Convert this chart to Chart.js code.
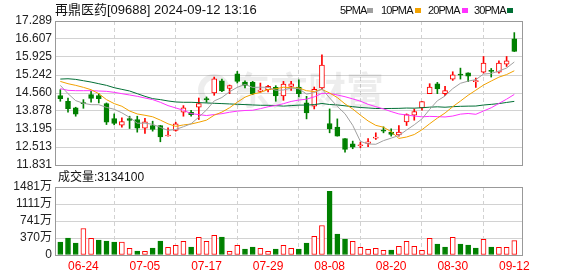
<!DOCTYPE html>
<html><head><meta charset="utf-8">
<script src="https://cdn.jsdelivr.net/npm/chart.js@4.4.1/dist/chart.umd.min.js"></script>
<style>
html,body{margin:0;padding:0;background:#fff;width:578px;height:276px;overflow:hidden;}
#wrap{position:relative;width:578px;height:276px;font-family:"Liberation Sans","Noto Sans CJK SC",sans-serif;color:#111;}
canvas{position:absolute;left:0;}
.t{position:absolute;white-space:nowrap;line-height:1;}
.sq{position:absolute;width:6px;height:5px;}
</style></head><body>
<div id="wrap">
<canvas id="pc" width="578" height="170" style="top:0;width:578px;height:170px"></canvas>
<canvas id="vc" width="578" height="106" style="top:170px;width:578px;height:106px"></canvas>
<div class="t" id="title" style="left:55px;top:3px;font-size:13px"></div>
<div id="leg"></div>
<div class="t" id="voltitle" style="left:58px;top:171px;font-size:12px"></div>
</div>
<script>
const stockTitle = '再鼎医药[09688] 2024-09-12 13:16';
const volTitle = '成交量:3134100';
const dates = ['06-19','06-20','06-21','06-24','06-25','06-26','06-27','06-28','07-02','07-03',
'07-04','07-05','07-08','07-09','07-10','07-11','07-12','07-15','07-16','07-17',
'07-18','07-19','07-22','07-23','07-24','07-25','07-26','07-29','07-30','07-31',
'08-01','08-02','08-05','08-06','08-07','08-08','08-09','08-12','08-13','08-14',
'08-15','08-16','08-19','08-20','08-21','08-22','08-23','08-26','08-27','08-28',
'08-29','08-30','09-02','09-03','09-04','09-05','09-09','09-10','09-11','09-12'];
const xTickLabels = ['06-24','07-05','07-17','07-29','08-08','08-20','08-30','09-12'];
const priceTickLabels = ['11.831','12.513','13.195','13.878','14.560','15.242','15.925','16.607','17.289'];
const volTickLabels = ['0','370万','741万','1111万','1481万'];
const volTickValues = [0,370.3,740.6,1110.9,1481.2];

const opens = [14.459,14.246,13.994,14.17,14.497,14.459,14.158,13.592,13.34,13.592,
13.554,13.227,13.327,13.327,12.93,13.139,13.831,13.831,14.019,14.32,
14.56,15.025,14.736,15.29,14.975,14.975,14.623,14.686,14.774,14.447,
14.812,14.787,14.183,14.057,14.749,13.403,13.265,12.837,12.636,12.56,
12.649,12.85,13.12,13.076,12.975,13.466,13.717,13.994,14.535,14.912,
14.535,15.088,15.27,15.327,14.99,15.352,15.40,15.352,15.654,16.61];
const highs = [14.686,14.371,14.02,14.309,14.623,14.535,14.183,13.768,13.617,13.68,
13.68,13.604,13.491,13.33,13.24,13.453,14.082,13.906,14.371,14.409,
15.164,15.088,14.862,15.378,15.025,15.0,14.937,14.85,14.837,15.0,
15.0,15.063,14.434,14.787,16.006,13.956,13.579,12.837,12.737,12.699,
12.837,13.051,13.277,13.202,13.327,13.768,13.956,14.233,14.912,14.962,
14.812,15.365,15.503,15.327,15.126,15.944,15.49,15.78,15.944,16.849];
const lows = [14.246,13.831,13.68,13.98,14.208,14.183,13.365,13.353,13.265,13.214,
13.076,13.026,13.114,12.711,12.92,13.114,13.68,13.68,13.554,14.208,
14.472,14.61,14.535,14.937,14.749,14.497,14.585,14.598,14.246,14.283,
14.66,14.409,13.579,13.956,14.686,13.051,12.925,12.321,12.447,12.485,
12.523,12.799,13.051,12.925,12.925,13.327,13.529,13.906,14.535,14.535,
14.459,15.038,15.088,14.988,14.774,15.315,15.164,15.315,15.566,16.132];
const closes = [14.346,13.969,13.755,14.158,14.359,14.346,13.453,13.403,13.478,13.516,
13.227,13.466,13.177,12.9,12.95,13.39,13.994,13.74,14.158,14.309,
15.1,14.636,14.837,15.0,14.85,14.535,14.673,14.812,14.447,14.9,
14.912,14.535,13.805,14.7,15.617,13.202,12.925,12.422,12.51,12.573,
12.711,12.862,13.114,12.988,13.076,13.742,13.856,14.233,14.787,14.711,
14.648,15.252,15.24,15.2,15.0,15.692,15.378,15.692,15.78,16.132];
const volumes = [282,368,260,578,361,325,303,282,282,144,
87,79,152,303,166,209,296,173,383,296,
426,390,79,209,130,173,144,79,130,209,
144,130,260,404,643,1387,455,347,296,166,
123,144,101,108,188,296,188,101,361,238,
173,383,238,217,152,340,173,166,166,313.41];
const ma5 = [14.85,14.535,14.27,14.17,14.117,14.117,14.014,13.944,13.808,13.639,
13.415,13.418,13.373,13.257,13.144,13.177,13.282,13.395,13.646,13.918,
14.26,14.389,14.608,14.776,14.885,14.772,14.779,14.774,14.663,14.673,
14.749,14.721,14.52,14.57,14.714,14.372,14.05,13.773,13.335,12.726,
12.628,12.616,12.754,12.85,12.95,13.156,13.355,13.579,13.939,14.266,
14.447,14.726,14.928,15.01,15.068,15.277,15.302,15.392,15.508,15.735];
const ma10 = [15.0,14.912,14.85,14.774,14.686,14.535,14.309,14.158,14.057,13.878,
13.766,13.716,13.659,13.533,13.392,13.296,13.35,13.384,13.452,13.531,
13.719,13.836,14.002,14.211,14.402,14.516,14.584,14.691,14.72,14.779,
14.761,14.75,14.647,14.617,14.694,14.561,14.386,14.147,13.953,13.72,
13.5,13.333,13.264,13.093,12.838,12.892,12.986,13.167,13.395,13.608,
13.802,14.041,14.254,14.475,14.667,14.862,15.014,15.16,15.259,15.402];
const ma20 = [14.724,14.661,14.648,14.648,14.648,14.636,14.623,14.585,14.535,14.485,
14.434,14.371,14.309,14.208,14.082,13.994,13.906,13.78,13.742,13.705,
13.743,13.776,13.831,13.872,13.897,13.906,13.967,14.038,14.086,14.155,
14.24,14.293,14.325,14.414,14.548,14.539,14.485,14.419,14.337,14.25,
14.131,14.042,13.956,13.855,13.766,13.727,13.686,13.657,13.674,13.664,
13.651,13.687,13.759,13.784,13.753,13.877,14.0,14.164,14.327,14.505];
const ma30 = [15.088,15.1,15.076,15.025,14.975,14.912,14.85,14.761,14.698,14.636,
14.535,14.434,14.346,14.309,14.258,14.22,14.208,14.208,14.195,14.183,
14.17,14.158,14.145,14.133,14.12,14.107,14.095,14.095,14.082,14.063,
14.082,14.101,14.103,14.12,14.163,14.124,14.107,14.074,14.042,14.01,
13.993,13.973,13.971,13.974,13.978,13.99,13.985,14.002,14.023,14.036,
14.021,14.041,14.055,14.062,14.066,14.105,14.129,14.158,14.202,14.243];
const maNames = ['5PMA','10PMA','20PMA','30PMA'];
const maColors = ['#a0a0a0','#f2a200','#ff33ff','#006f35'];

const RED = '#ff0000', GREEN = '#008000', GRID = '#d2d2d2', BOX = '#999999';
Chart.defaults.font.family = '"Liberation Sans", "Noto Sans CJK SC", sans-serif';
Chart.defaults.font.size = 12;

document.getElementById('title').textContent = stockTitle;
document.getElementById('voltitle').textContent = volTitle;
const legTextX = [340,381,428,474], legSqX = [367,415,462,507];
const leg = document.getElementById('leg');
maNames.forEach((n,i)=>{
  const t = document.createElement('div'); t.className='t';
  t.style.cssText = 'left:'+legTextX[i]+'px;top:5px;font-size:11px;letter-spacing:-0.9px;color:#111';
  t.textContent = n; leg.appendChild(t);
  const s = document.createElement('div'); s.className='sq';
  s.style.cssText = 'left:'+legSqX[i]+'px;top:8px;background:'+maColors[i];
  leg.appendChild(s);
});

const labelIdx = xTickLabels.map(l=>dates.indexOf(l));
const candleUp = opens.map((o,i)=>closes[i]>=o);
const volUp = closes.map((c,i)=> i>0 && c>=closes[i-1]);

const boxPlugin = {id:'box', afterDraw(chart){
  const {left,top,right,bottom} = chart.chartArea; const c = chart.ctx;
  c.save(); c.strokeStyle = BOX; c.lineWidth = 1;
  c.strokeRect(Math.round(left)+0.5, Math.round(top)+0.5, Math.round(right-left), Math.round(bottom-top));
  c.restore();
}};
const wmPlugin = {id:'wm', beforeDatasetsDraw(chart){
  const c = chart.ctx; c.save();
  c.fillStyle = 'rgba(0,0,0,0.07)'; c.strokeStyle = 'rgba(0,0,0,0.07)';
  c.font = 'bold 38px "Noto Sans CJK SC"'; c.textBaseline = 'middle';
  c.fillText('东方财富', 232, 90);
  c.beginPath(); c.lineWidth = 6; c.arc(214, 90, 13, 0.6*Math.PI, 1.9*Math.PI); c.stroke();
  c.restore();
}};

function xScale(showLabels){
  return {
    type:'linear', min:-0.69, max:60, offset:false,
    afterBuildTicks: s => { s.ticks = labelIdx.map(v=>({value:v})); },
    ticks:{display:showLabels, autoSkip:false, maxRotation:0, color:RED, padding:4,
      font:{size:12}, callback: v => dates[v]},
    grid:{color:GRID, drawTicks:false, lineWidth:1},
    border:{display:false, dash:[4,3]},
    afterFit: s => { s.height = showLabels ? 21 : 0; s.paddingLeft = 0; s.paddingRight = 0; }
  };
}

new Chart(document.getElementById('pc'), {
  type:'bar',
  data:{ datasets:[
    {type:'line', data: ma5.map((v,i)=>({x:i,y:v})), borderColor:maColors[0], borderWidth:1, pointRadius:0, tension:0, order:0},
    {type:'line', data: ma10.map((v,i)=>({x:i,y:v})), borderColor:maColors[1], borderWidth:1, pointRadius:0, tension:0, order:0},
    {type:'line', data: ma20.map((v,i)=>({x:i,y:v})), borderColor:maColors[2], borderWidth:1, pointRadius:0, tension:0, order:0},
    {type:'line', data: ma30.map((v,i)=>({x:i,y:v})), borderColor:maColors[3], borderWidth:1, pointRadius:0, tension:0, order:0},
    {data: opens.map((o,i)=>({x:i, y:[o, closes[i]]})), grouped:false, barThickness:5, minBarLength:1,
      backgroundColor: opens.map((o,i)=> candleUp[i] ? '#ffffff' : GREEN),
      borderColor: opens.map((o,i)=> candleUp[i] ? RED : GREEN),
      borderWidth:1, borderSkipped:false, order:1},
    {data: lows.map((l,i)=>({x:i, y:[l, highs[i]]})), grouped:false, barThickness:1,
      backgroundColor: opens.map((o,i)=> candleUp[i] ? RED : GREEN), borderWidth:0, order:2}
  ]},
  options:{
    responsive:false, animation:false, devicePixelRatio:1, events:[],
    layout:{padding:{top:21, right:56, bottom:5, left:0}},
    plugins:{legend:{display:false}, tooltip:{enabled:false}},
    scales:{
      x: xScale(false),
      y:{ min:11.831, max:17.289,
        afterBuildTicks: s => { s.ticks = priceTickLabels.map(l=>({value:parseFloat(l)})); },
        ticks:{color:'#222', padding:3, font:{size:12}, autoSkip:false, callback:(v,i)=>priceTickLabels[i]},
        grid:{color:GRID, drawTicks:false},
        border:{display:false},
        afterFit: s => { s.width = 55; s.paddingTop = 0; s.paddingBottom = 0; } }
    }
  },
  plugins:[wmPlugin, boxPlugin]
});

new Chart(document.getElementById('vc'), {
  type:'bar',
  data:{ datasets:[
    {data: volumes.map((v,i)=>({x:i, y:v})), barThickness:5,
      backgroundColor: volUp.map(u=> u ? '#ffffff' : GREEN),
      borderColor: volUp.map(u=> u ? RED : GREEN),
      borderWidth:1, borderSkipped:false}
  ]},
  options:{
    responsive:false, animation:false, devicePixelRatio:1, events:[],
    layout:{padding:{top:17, right:56, bottom:0, left:0}},
    plugins:{legend:{display:false}, tooltip:{enabled:false}},
    scales:{
      x: xScale(true),
      y:{ min:0, max:1481.2,
        afterBuildTicks: s => { s.ticks = volTickValues.map(v=>({value:v})); },
        ticks:{color:'#222', padding:3, font:{size:12}, autoSkip:false, callback:(v,i)=>volTickLabels[i]},
        grid:{color:GRID, drawTicks:false},
        border:{display:false},
        afterFit: s => { s.width = 55; s.paddingTop = 0; s.paddingBottom = 0; } }
    }
  },
  plugins:[boxPlugin]
});
</script>
</body></html>
